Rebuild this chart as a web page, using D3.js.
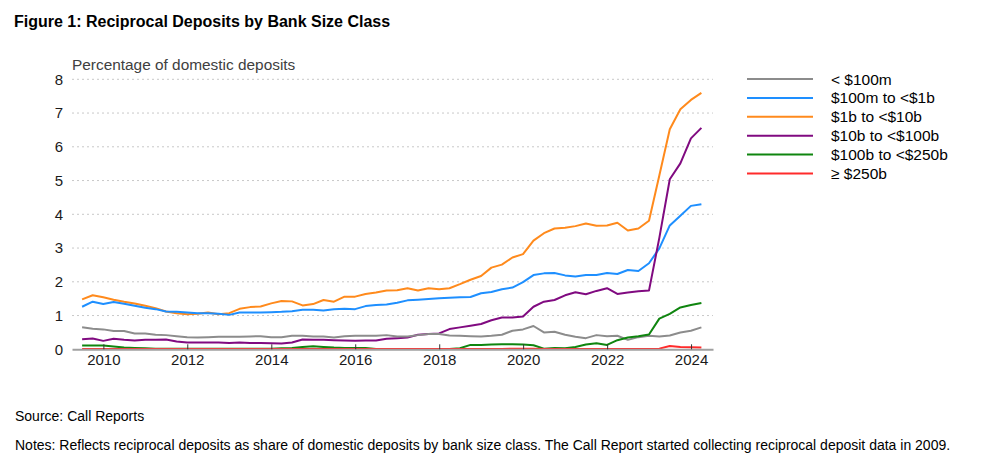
<!DOCTYPE html>
<html>
<head>
<meta charset="utf-8">
<script src="https://cdn.jsdelivr.net/npm/d3@7"></script>
<style>
  body { margin: 0; background: #fff; }
  svg { font-family: "Liberation Sans", Arial, sans-serif; }
  .grid line { stroke: #c8c8c8; stroke-dasharray: 2,3; }
  .series { fill: none; stroke-width: 2; stroke-linejoin: round; }
</style>
</head>
<body>
<svg id="chart"></svg>
<script>
const size = {w: 991, h: 472};
const plot = {l: 72, r: 713, t: 79.3, b: 349.3};

// quarter-end observations, 2009Q2 .. 2024Q1
const quarters = [
  '2009Q2','2009Q3','2009Q4',
  '2010Q1','2010Q2','2010Q3','2010Q4',
  '2011Q1','2011Q2','2011Q3','2011Q4',
  '2012Q1','2012Q2','2012Q3','2012Q4',
  '2013Q1','2013Q2','2013Q3','2013Q4',
  '2014Q1','2014Q2','2014Q3','2014Q4',
  '2015Q1','2015Q2','2015Q3','2015Q4',
  '2016Q1','2016Q2','2016Q3','2016Q4',
  '2017Q1','2017Q2','2017Q3','2017Q4',
  '2018Q1','2018Q2','2018Q3','2018Q4',
  '2019Q1','2019Q2','2019Q3','2019Q4',
  '2020Q1','2020Q2','2020Q3','2020Q4',
  '2021Q1','2021Q2','2021Q3','2021Q4',
  '2022Q1','2022Q2','2022Q3','2022Q4',
  '2023Q1','2023Q2','2023Q3','2023Q4',
  '2024Q1'
];

const under100m = [0.65,0.61,0.59,0.54,0.54,0.47,0.47,0.43,0.42,0.39,0.36,0.35,0.36,0.37,0.37,0.37,0.38,0.39,0.36,0.36,
  0.40,0.40,0.38,0.38,0.35,0.39,0.40,0.40,0.40,0.42,0.38,0.38,0.42,0.45,0.45,0.41,0.40,0.39,0.38,0.40,
  0.43,0.55,0.59,0.69,0.50,0.52,0.43,0.37,0.33,0.42,0.39,0.40,0.28,0.36,0.40,0.38,0.41,0.50,0.55,0.65];
const from100mTo1b = [1.26,1.41,1.34,1.40,1.35,1.29,1.23,1.19,1.12,1.11,1.09,1.07,1.07,1.05,1.02,1.09,1.09,1.09,1.10,1.11,
  1.13,1.17,1.17,1.15,1.19,1.20,1.19,1.28,1.31,1.33,1.38,1.45,1.47,1.49,1.51,1.53,1.54,1.55,1.66,1.70,
  1.78,1.83,1.99,2.20,2.25,2.26,2.19,2.16,2.20,2.20,2.26,2.23,2.35,2.32,2.55,2.99,3.67,3.96,4.25,4.30];
const from1bTo10b = [1.48,1.60,1.54,1.47,1.41,1.36,1.29,1.22,1.12,1.07,1.04,1.05,1.09,1.04,1.07,1.20,1.25,1.27,1.36,1.43,
  1.42,1.30,1.34,1.46,1.41,1.56,1.56,1.64,1.68,1.74,1.75,1.81,1.74,1.81,1.78,1.81,1.93,2.06,2.17,2.42,
  2.51,2.72,2.82,3.22,3.44,3.58,3.60,3.65,3.73,3.66,3.67,3.75,3.52,3.58,3.81,5.15,6.52,7.11,7.39,7.60];
const from10bTo100b = [0.30,0.32,0.25,0.31,0.28,0.26,0.28,0.28,0.29,0.23,0.20,0.20,0.20,0.20,0.19,0.20,0.19,0.19,0.18,0.17,
  0.20,0.29,0.28,0.28,0.27,0.26,0.25,0.26,0.26,0.31,0.33,0.35,0.43,0.45,0.47,0.60,0.65,0.70,0.75,0.86,
  0.94,0.94,0.97,1.26,1.41,1.46,1.60,1.69,1.63,1.73,1.81,1.64,1.68,1.72,1.74,3.30,5.04,5.51,6.25,6.56];
const from100bTo250b = [0.11,0.11,0.11,0.08,0.05,0.04,0.03,0.02,0.02,0.02,0.02,0.02,0.02,0.02,0.02,0.02,0.02,0.02,0.02,0.03,
  0.04,0.07,0.09,0.07,0.05,0.04,0.04,0.04,0.01,0.01,0.01,0.01,0.01,0.00,0.00,0.01,0.03,0.13,0.13,0.14,
  0.15,0.15,0.14,0.12,0.02,0.04,0.03,0.07,0.14,0.18,0.13,0.27,0.35,0.39,0.44,0.91,1.05,1.24,1.31,1.37];
const over250b = [0.01,0.01,0.01,0.01,0.01,0.01,0.01,0.01,0.01,0.01,0.01,0.01,0.01,0.01,0.01,0.01,0.01,0.01,0.01,0.01,
  0.01,0.01,0.01,0.01,0.01,0.01,0.01,0.01,0.01,0.01,0.01,0.01,0.01,0.01,0.01,0.01,0.01,0.01,0.01,0.01,
  0.01,0.02,0.02,0.02,0.01,0.01,0.01,0.01,0.01,0.01,0.01,0.01,0.01,0.01,0.01,0.02,0.10,0.07,0.06,0.05];

const seriesNames = ['< $100m', '$100m to <$1b', '$1b to <$10b', '$10b to <$100b', '$100b to <$250b', '\u2265 $250b'];
const seriesValues = [under100m, from100mTo1b, from1bTo10b, from10bTo100b, from100bTo250b, over250b];
const seriesColors = ['#8c8c8c', '#1e8fff', '#ff8a1c', '#800a80', '#0f850f', '#ff2b2b'];
// drawing order: later ones on top
const drawOrder = [2, 1, 3, 0, 4, 5];

const yTicks = [0, 1, 2, 3, 4, 5, 6, 7, 8];
const xTickYears = [2010, 2012, 2014, 2016, 2018, 2020, 2022, 2024];

// quarter label -> last day of the quarter
function quarterEnd(q) {
  let year = +q.slice(0, 4);
  let n = +q.slice(5);
  return new Date(year, n * 3, 0);
}
const dates = quarters.map(quarterEnd);

const svg = d3.select('svg#chart')
  .attr('width', size.w)
  .attr('height', size.h);

const xScale = d3.scaleTime()
  .domain([new Date(2009, 3, 3), new Date(2024, 6, 10)])
  .range([plot.l, plot.r]);

const yScale = d3.scaleLinear()
  .domain([0, 8])
  .range([plot.b, plot.t]);

// title
svg.append('text')
  .attr('x', 14)
  .attr('y', 26.5)
  .attr('font-size', 16)
  .attr('font-weight', 'bold')
  .attr('fill', '#000')
  .text('Figure 1: Reciprocal Deposits by Bank Size Class');

svg.append('text')
  .attr('x', 72)
  .attr('y', 70)
  .attr('font-size', 15.4)
  .attr('fill', '#404040')
  .text('Percentage of domestic deposits');

// dotted gridlines
svg.append('g')
  .classed('grid', true)
  .selectAll('line')
  .data(yTicks.filter(d => d > 0))
  .join('line')
  .attr('x1', plot.l)
  .attr('x2', plot.r)
  .attr('y1', d => yScale(d))
  .attr('y2', d => yScale(d));

// y axis (labels only)
const yAxisG = svg.append('g')
  .attr('transform', `translate(${plot.l}, 0)`)
  .call(d3.axisLeft(yScale).tickValues(yTicks).tickSize(0).tickPadding(9));
yAxisG.select('.domain').remove();
yAxisG.selectAll('text')
  .attr('font-size', 15)
  .attr('font-family', '"Liberation Sans", Arial, sans-serif')
  .attr('fill', '#1a1a1a');

// lines
let line = d3.line()
  .x((d, i) => xScale(dates[i]))
  .y(d => yScale(d));

svg.append('g')
  .classed('lines', true)
  .selectAll('path')
  .data(drawOrder)
  .join('path')
  .classed('series', true)
  .attr('stroke', k => seriesColors[k])
  .attr('d', k => line(seriesValues[k]));

// x axis
const xAxisG = svg.append('g')
  .attr('transform', `translate(0, ${plot.b})`)
  .call(d3.axisBottom(xScale)
    .tickValues(xTickYears.map(y => new Date(y, 0, 1)))
    .tickFormat(d3.timeFormat('%Y'))
    .tickSizeInner(-5)
    .tickSizeOuter(0)
    .tickPadding(5.5));
xAxisG.select('.domain')
  .attr('stroke', '#a0a0a0')
  .attr('stroke-width', 2);
xAxisG.selectAll('.tick line').attr('stroke', '#333');
xAxisG.selectAll('text')
  .attr('font-size', 15)
  .attr('font-family', '"Liberation Sans", Arial, sans-serif')
  .attr('fill', '#1a1a1a');

// legend
const legend = svg.append('g')
  .attr('transform', 'translate(747, 79)')
  .selectAll('g')
  .data(seriesNames)
  .join('g')
  .attr('transform', (d, i) => `translate(0, ${i * 18.9})`);

legend.append('line')
  .attr('x1', 0)
  .attr('x2', 66)
  .attr('stroke', (d, i) => seriesColors[i])
  .attr('stroke-width', 2);

legend.append('text')
  .attr('x', 84)
  .attr('y', 5.5)
  .attr('font-size', 15.5)
  .attr('fill', '#000')
  .text(d => d);

// footnotes
svg.append('text')
  .attr('x', 15)
  .attr('y', 421)
  .attr('font-size', 14)
  .attr('fill', '#000')
  .text('Source: Call Reports');

svg.append('text')
  .attr('x', 15)
  .attr('y', 450)
  .attr('font-size', 14)
  .attr('fill', '#000')
  .text('Notes: Reflects reciprocal deposits as share of domestic deposits by bank size class. The Call Report started collecting reciprocal deposit data in 2009.');
</script>
</body>
</html>
